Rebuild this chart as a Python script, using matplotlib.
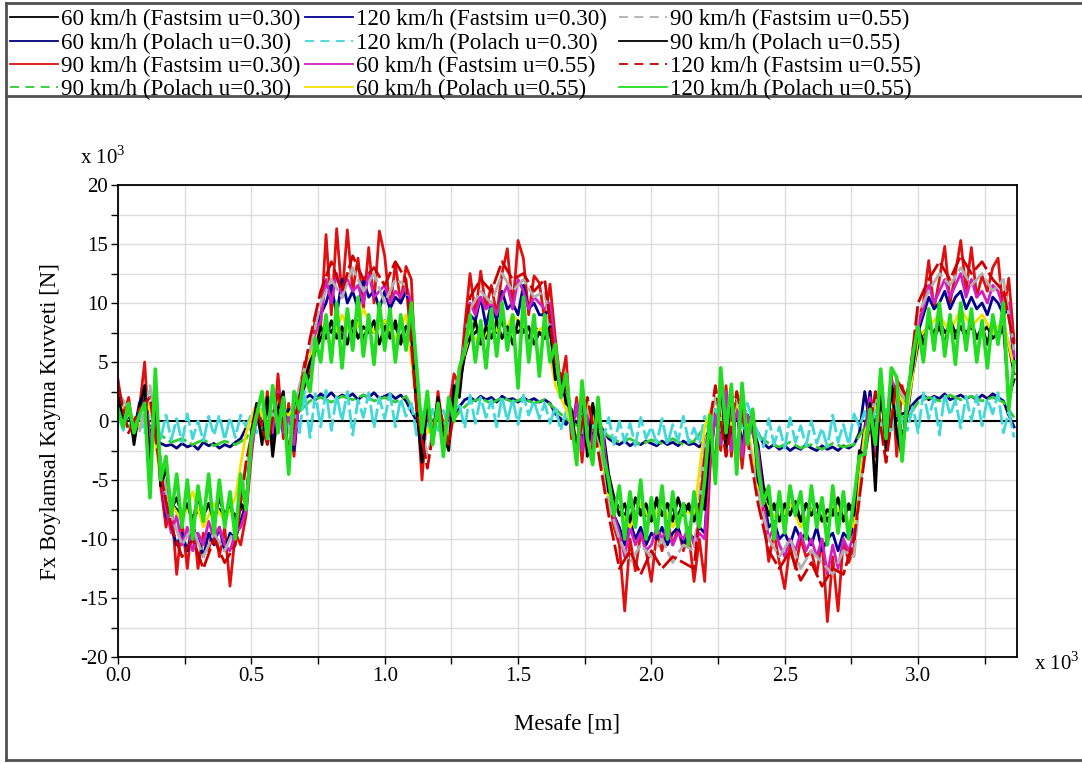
import numpy as np
import matplotlib.pyplot as plt
from matplotlib.lines import Line2D
from matplotlib.ticker import MultipleLocator, FormatStrFormatter

plt.rcParams['font.family'] = ['Liberation Serif', 'DejaVu Serif']
plt.rcParams['mathtext.fontset'] = 'custom'
plt.rcParams['mathtext.rm'] = 'Liberation Serif'
plt.rcParams['axes.unicode_minus'] = False

# Fx longitudinal creep force [x10^3 N], sampled evenly along 0 .. 3.36 x10^3 m
f60_fastsim_030 = [
    1.5, 0.0, 1.0, -0.5, 0.5, 2.0, -1.5, 0.0, -3.5, -6.0,
    -7.0, -7.5, -8.0, -7.0, -8.5, -7.5, -8.0, -7.0, -8.0, -7.5,
    -8.0, -7.5, -8.0, -7.5, -7.0, -2.0, 0.5, -0.5, 1.0, -0.5,
    1.5, -0.5, 0.5, -1.0, 1.5, 3.0, 4.0, 6.0, 7.0, 8.0,
    7.5, 8.5, 7.0, 8.0, 7.5, 8.5, 7.0, 8.0, 7.5, 8.0,
    8.5, 7.5, 8.0, 7.0, 8.0, 7.5, 2.5, -1.5, 0.5, -1.0,
    1.0, -0.5, 0.5, 1.5, 3.0, 5.5, 7.0, 7.5, 8.0, 7.0,
    8.0, 7.5, 8.5, 7.0, 8.0, 7.5, 8.0, 7.0, 8.0, 7.5,
    7.0, 7.5, 5.0, 2.0, 3.0, -0.5, 1.0, -1.5, 0.5, -1.0,
    0.0, -1.0, -4.5, -6.5, -7.5, -8.0, -7.0, -8.0, -7.5, -8.0,
    -7.5, -7.0, -8.0, -7.0, -7.5, -8.0, -7.0, -7.5, -8.0, -7.5,
    -7.0, -2.5, 0.5, -1.0, 1.5, -1.5, 1.0, -2.0, 0.5, -0.5,
    -2.0, -5.5, -7.0, -7.5, -6.8, -8.0, -7.0, -7.5, -8.5, -7.0,
    -7.5, -8.0, -7.0, -8.5, -7.5, -8.0, -7.0, -7.5, -7.0, -3.5,
    -0.5, 1.5, -1.5, 2.0, -1.0, 2.5, 1.5, -1.5, 0.5, 4.0,
    6.5, 7.5, 8.0, 7.5, 8.5, 7.5, 8.0, 7.0, 8.0, 7.5,
    8.0, 7.0, 7.5, 8.0, 7.0, 7.5, 8.0, 6.5, 4.0,
]
f60_polach_030 = [
    0.3, -0.2, 0.4, -0.3, 0.2, 0.4, -0.5, -1.5, -1.9, -2.1,
    -2.0, -2.3, -1.9, -2.2, -2.0, -2.4, -1.8, -2.1, -1.9, -2.3,
    -2.0, -2.2, -1.8, -1.5, -0.6, 0.2, -0.3, 0.4, -0.2, 0.3,
    0.0, 0.5, -0.3, 0.4, 1.2, 1.9, 2.2, 1.8, 2.3, 2.0,
    2.4, 1.9, 2.2, 2.0, 2.3, 1.8, 2.2, 2.0, 2.4, 1.9,
    2.1, 2.3, 1.9, 2.2, 1.7, 0.8, 0.0, -0.4, 0.3, -0.2,
    0.4, -0.3, 0.2, 0.5, 1.2, 1.8, 2.0, 1.7, 2.1, 1.8,
    2.0, 1.6, 2.1, 1.8, 1.9, 1.6, 2.0, 1.7, 1.9, 1.6,
    1.8, 1.5, 0.6, 0.2, -0.3, 0.3, -0.2, 0.4, -0.3, 0.2,
    -0.2, -0.8, -1.5, -1.8, -2.0, -1.7, -2.1, -1.8, -2.0, -1.7,
    -1.9, -2.1, -1.7, -2.0, -1.8, -2.1, -1.7, -2.0, -1.9, -2.2,
    -1.6, -0.6, 0.2, -0.3, 0.4, -0.2, 0.3, -0.4, 0.2, -0.3,
    -1.0, -1.9, -2.3, -2.0, -2.4, -2.1, -2.5, -2.2, -2.4, -2.0,
    -2.3, -2.5, -2.1, -2.4, -2.2, -2.5, -2.1, -2.3, -2.0, -1.0,
    2.5, -0.3, 0.3, -0.2, 0.5, -0.4, 0.2, 0.6, 0.8, 1.4,
    1.9, 2.2, 1.8, 2.1, 1.9, 2.3, 1.8, 2.0, 2.2, 1.9,
    2.1, 1.8, 2.2, 1.9, 2.3, 2.0, 1.7, 0.5, -0.5,
]
f90_fastsim_030 = [
    3.5, 0.5, 2.0, -1.5, 1.0, 5.0, -2.5, 1.0, -5.5, -9.0,
    -7.0, -13.0, -8.5, -12.5, -8.0, -12.5, -9.5, -11.0, -8.5, -11.5,
    -9.0, -14.0, -9.5, -10.5, -8.0, -3.0, 1.0, -1.5, 2.5, -2.0,
    4.0, -1.5, 1.5, -3.0, 2.5, 5.0, 4.0, 9.0, 8.0, 15.8,
    9.0, 16.3, 10.5, 16.2, 11.0, 13.8, 9.5, 14.7, 10.0, 16.1,
    14.0, 9.5, 13.3, 10.0, 13.1, 12.0, 2.0, -5.0, 1.5, -2.0,
    2.5, -1.0, 1.0, 4.0, 3.0, 8.0, 12.5, 9.0, 12.7, 9.5,
    11.5, 9.0, 12.5, 14.6, 9.5, 15.3, 13.8, 9.0, 12.3, 11.7,
    8.5, 11.6, 7.0, 3.0, 5.5, -1.5, 2.0, -3.5, 1.5, -2.5,
    1.0, -2.0, -6.5, -9.0, -10.5, -16.1, -10.0, -12.7, -9.5, -11.0,
    -13.6, -9.5, -11.0, -8.5, -10.5, -9.0, -11.0, -9.5, -13.6, -10.0,
    -13.6, -4.0, 1.0, -2.5, 3.0, -3.0, 2.0, -4.0, 0.5, -1.0,
    -3.0, -8.0, -11.9, -9.5, -12.0, -14.2, -10.5, -12.5, -10.0, -11.5,
    -11.0, -13.0, -10.0, -17.0, -11.5, -16.1, -10.0, -12.0, -10.7, -5.0,
    -1.0, 2.5, -3.0, 3.5, -2.0, 4.0, -3.0, 3.0, 1.0, 6.0,
    8.5, 10.0, 13.6, 9.5, 12.0, 14.8, 10.0, 12.5, 15.3, 11.0,
    14.7, 10.5, 12.3, 11.0, 13.0, 13.8, 9.0, 12.1, 6.8,
]
f90_polach_030 = [
    0.5, -0.5, 0.5, -0.5, -1.2, -1.8, -1.5, -2.0, -1.6, -2.1,
    -1.7, -2.0, -1.5, 0.3, -0.4, 0.5, -0.2, 0.8, 1.7, 2.0,
    1.6, 2.1, 1.8, 2.2, 1.7, 2.0, 1.6, 2.1, 0.4, -0.3,
    0.5, -0.5, 0.8, 1.6, 1.9, 1.5, 2.0, 1.6, 1.9, 1.5,
    1.8, 1.0, 0.2, -0.4, 0.3, -0.5, -1.3, -1.8, -1.5, -2.0,
    -1.6, -1.9, -1.5, -2.0, -1.7, -0.5, 0.5, -0.3, 0.6, -0.2,
    -1.2, -1.9, -2.2, -1.8, -2.3, -2.0, -2.4, -1.9, -2.2, -2.0,
    -0.5, 0.4, -0.3, 0.6, 0.2, 1.6, 2.0, 1.7, 2.2, 1.8,
    2.1, 1.7, 2.0, 1.6, 0.3,
]
f120_fastsim_030 = [
    2.0, 0.5, 1.0, -1.0, 1.5, 2.5, -2.5, 1.0, -4.0, -8.0,
    -9.0, -10.5, -9.5, -11.0, -9.0, -10.0, -11.5, -9.5, -10.5, -9.0,
    -11.0, -9.5, -10.0, -8.5, -7.0, -2.0, 1.0, -1.5, 1.5, -1.5,
    2.0, -1.0, 1.0, -2.5, 2.0, 3.5, 5.0, 7.0, 9.0, 10.0,
    11.5, 9.0, 12.0, 10.0, 11.0, 9.5, 12.0, 10.5, 11.0, 9.5,
    11.0, 9.5, 10.5, 10.0, 11.0, 9.0, 2.5, -2.5, 1.0, -1.0,
    1.5, -0.5, 0.5, 2.0, 3.5, 6.5, 9.0, 8.5, 10.5, 8.0,
    10.0, 8.5, 11.0, 9.5, 10.0, 9.0, 11.5, 9.5, 10.0, 9.0,
    9.0, 9.5, 5.5, 2.5, 3.5, -0.5, 1.5, -2.0, 1.0, -1.5,
    0.5, -1.5, -5.0, -8.0, -9.0, -10.5, -8.5, -10.0, -9.0, -10.5,
    -9.5, -10.0, -9.0, -10.5, -9.5, -9.0, -10.5, -9.5, -10.0, -9.0,
    -9.5, -3.0, 0.5, -1.5, 2.0, -2.0, 1.0, -2.5, 0.5, -0.5,
    -2.5, -6.5, -9.0, -8.5, -10.0, -9.5, -10.5, -9.0, -10.0, -9.5,
    -10.5, -9.0, -11.0, -10.0, -9.5, -11.0, -9.5, -10.0, -9.0, -4.0,
    -1.0, 2.5, -2.0, 2.5, -1.0, 3.0, 2.0, -2.0, 1.0, 4.5,
    7.5, 9.0, 10.5, 9.5, 10.0, 11.0, 9.5, 10.5, 11.0, 9.5,
    10.5, 9.5, 10.0, 9.0, 10.5, 10.0, 9.0, 9.5, 5.0,
]
f120_polach_030 = [
    0.5, -0.8, 1.0, -0.5, 0.8, -1.0, 0.6, 0.3, -1.5, 0.5,
    -1.6, 0.2, -1.8, 0.6, -1.5, 0.0, -1.7, 0.4, -1.2, 0.5,
    -1.6, 0.3, -1.4, 0.5, -0.5, 0.6, -1.0, 1.0, -0.8, 0.9,
    -1.0, 0.7, -0.5, 1.2, -1.0, 2.5, -1.4, 2.3, -0.5, 2.6,
    -0.8, 2.2, 0.0, 2.5, -1.2, 1.8, 0.3, 2.4, -0.6, 2.0,
    0.2, 2.3, -0.5, 1.9, 0.4, 1.5, -1.2, 0.8, -0.6, 1.0,
    -0.8, 0.9, -0.5, 0.7, 1.5, -0.6, 2.2, -0.2, 2.0, 0.3,
    1.8, -0.5, 2.1, 0.0, 1.9, -0.3, 2.2, 0.5, 1.7, 0.2,
    1.5, -0.2, 1.2, -0.8, 0.8, -0.5, 1.0, -1.0, 1.3, -0.8,
    0.6, -1.5, 0.3, -2.0, 0.0, -1.8, -0.2, -2.1, 0.3, -1.5,
    -0.5, -1.9, 0.2, -2.0, -0.3, -1.7, 0.4, -1.8, -0.6, -1.9,
    0.4, -1.2, 1.0, -0.8, 1.2, -0.5, 1.4, -0.7, 1.5, 0.0,
    -1.0, -2.2, 0.2, -2.0, -0.5, -2.3, 0.3, -1.8, -0.4, -2.1,
    0.0, -1.9, -0.6, -2.2, 0.5, -1.8, -0.3, -2.0, 0.6, -0.5,
    0.8, -1.0, 1.2, -0.6, 1.0, -0.8, 1.5, 0.0, -0.8, 1.2,
    -1.0, 2.4, 0.2, 2.0, -1.2, 2.3, 0.5, 1.8, -0.6, 2.1,
    0.0, 2.2, -0.4, 1.9, 0.6, 2.4, -1.0, 0.8, -1.4,
]
f60_fastsim_055 = [
    2.0, 0.0, 1.0, -1.0, 0.5, 3.0, -2.0, 0.5, -4.5, -7.5,
    -9.5, -8.0, -10.5, -9.0, -11.0, -9.5, -10.5, -8.5, -10.0, -9.0,
    -10.5, -11.0, -9.5, -9.0, -7.5, -2.5, 0.5, -1.0, 1.5, -1.0,
    2.5, -1.0, 0.5, -2.0, 2.0, 4.0, 4.5, 7.5, 8.5, 12.0,
    10.0, 12.5, 10.5, 12.0, 11.0, 11.5, 10.0, 12.5, 10.5, 11.0,
    11.5, 10.0, 11.0, 10.5, 11.5, 10.0, 3.0, -3.0, 1.0, -1.5,
    1.5, -1.0, 0.5, 2.5, 4.0, 7.0, 10.0, 9.0, 10.5, 9.5,
    10.0, 9.0, 10.5, 11.5, 9.5, 12.0, 11.0, 9.5, 10.5, 10.0,
    9.5, 10.0, 6.0, 2.5, 4.0, -1.0, 1.5, -2.5, 1.0, -2.0,
    0.5, -1.5, -5.5, -8.0, -9.5, -11.5, -9.0, -10.5, -9.5, -11.0,
    -10.5, -9.0, -10.0, -9.0, -10.5, -9.5, -10.0, -9.0, -10.5, -9.5,
    -10.0, -3.0, 0.5, -2.0, 2.5, -2.5, 1.5, -3.0, 0.5, -1.0,
    -2.5, -7.0, -10.0, -9.0, -10.5, -11.5, -10.0, -11.0, -9.5, -11.0,
    -10.0, -11.5, -10.0, -13.0, -10.5, -12.5, -10.0, -11.0, -9.5, -4.5,
    -1.0, 2.0, -2.5, 3.0, -1.5, 3.5, 2.5, -2.5, 1.0, 5.0,
    8.0, 9.5, 11.5, 10.0, 11.0, 12.0, 10.5, 11.5, 12.5, 10.5,
    12.0, 10.5, 11.0, 10.0, 11.5, 11.0, 9.5, 10.0, 5.5,
]
f60_polach_055 = [
    1.5, 0.5, -0.5, 1.5, -5.0, -7.0, -8.5, -6.0, -9.0, -7.0,
    -8.5, -6.5, -1.0, 1.5, -0.5, 1.0, 0.5, 2.0, 5.5, 8.0,
    6.5, 9.0, 7.0, 9.5, 7.5, 8.5, 7.0, 9.0, 1.5, -1.0,
    0.5, -1.5, 4.0, 7.5, 6.5, 8.5, 7.0, 9.0, 8.0, 7.5,
    8.0, 3.0, 1.0, -1.5, 1.5, -1.0, -6.5, -7.5, -9.0, -7.0,
    -8.5, -7.0, -9.0, -7.5, -8.0, -0.5, 2.0, -1.5, 1.5, -0.5,
    -5.5, -7.5, -8.5, -7.0, -9.0, -7.5, -8.5, -7.0, -8.0, -9.0,
    -1.0, 1.5, -2.0, 2.5, 1.0, 7.0, 8.0, 9.0, 7.5, 9.5,
    8.0, 9.0, 7.5, 8.5, 4.5,
]
f90_fastsim_055 = [
    2.5, 1.0, -1.0, 3.0, -3.5, -8.0, -10.5, -9.0, -11.5, -9.5,
    -11.0, -9.0, -4.0, 0.5, -1.5, 2.0, -1.0, 3.0, 6.0, 10.0,
    12.0, 10.5, 13.0, 11.0, 12.5, 10.0, 12.0, 11.5, 2.0, -3.0,
    1.0, -1.0, 4.0, 9.5, 11.0, 10.0, 12.5, 11.0, 12.0, 10.5,
    11.0, 4.5, 2.0, -2.0, 1.0, -1.5, -7.0, -10.0, -12.0, -10.5,
    -11.5, -10.0, -12.0, -10.5, -11.0, -2.0, 2.0, -2.5, 2.0, -1.0,
    -6.0, -10.0, -11.5, -10.0, -12.5, -11.0, -12.0, -13.0, -11.0, -11.5,
    -2.0, 2.0, -2.5, 3.0, 1.5, 9.0, 11.0, 12.5, 11.5, 13.0,
    11.5, 12.5, 11.0, 12.0, 6.0,
]
f90_polach_055 = [
    2.5, -0.5, 1.5, -2.0, 1.0, 3.0, -4.0, 2.0, -5.5, -4.0,
    -7.5, -6.5, -8.0, -7.0, -8.5, -6.5, -8.0, -7.0, -8.5, -6.5,
    -8.0, -7.0, -8.5, -7.0, -7.5, -1.0, 1.5, -2.0, 2.0, -3.0,
    1.0, 2.5, -3.5, 1.5, 2.0, 3.5, 5.0, 6.0, 8.0, 7.0,
    8.5, 7.0, 8.0, 6.5, 8.5, 7.0, 8.0, 7.5, 8.5, 6.5,
    8.0, 7.0, 8.5, 6.5, 8.0, 7.5, 1.0, -3.5, 2.0, -1.5,
    2.0, -1.0, -2.5, 3.0, 2.0, 6.5, 7.0, 8.5, 6.5, 8.0,
    7.0, 8.5, 7.0, 8.0, 6.5, 8.5, 7.5, 8.0, 6.5, 7.5,
    7.0, 8.0, 3.5, 4.0, 1.5, 1.0, -2.5, 2.5, -3.0, 1.5,
    -1.0, -2.5, -6.0, -6.5, -8.0, -7.0, -8.5, -6.5, -8.0, -7.0,
    -8.5, -6.5, -8.0, -7.0, -8.5, -6.5, -8.0, -7.0, -8.5, -7.0,
    -7.5, -1.5, -3.5, 3.5, -2.5, 2.5, -3.5, 2.0, -1.5, 0.5,
    -5.0, -6.5, -8.0, -7.0, -8.5, -7.0, -8.0, -6.8, -8.5, -7.0,
    -8.0, -7.0, -8.5, -7.5, -8.0, -6.5, -8.5, -7.0, -8.0, -2.5,
    -3.0, 1.5, -5.9, 3.5, -2.5, 3.0, -1.0, -3.0, 2.5, 4.5,
    8.0, 6.5, 8.5, 7.0, 8.0, 6.5, 8.5, 7.5, 8.0, 7.0,
    8.5, 7.0, 8.0, 6.5, 8.5, 7.0, 8.0, 2.0, 3.5,
]
f120_fastsim_055 = [
    3.0, -1.0, 1.0, 2.0, -4.5, -9.0, -11.5, -10.0, -12.5, -10.0,
    -12.0, -10.5, -3.5, 1.0, -2.0, 2.5, -2.5, 2.0, 7.0, 11.0,
    13.5, 11.0, 14.0, 12.0, 13.0, 11.5, 13.5, 12.0, 1.0, -4.0,
    1.5, -2.0, 3.5, 10.5, 12.0, 11.0, 13.5, 12.0, 12.5, 11.0,
    12.0, 5.0, 3.0, -2.5, 2.0, -2.5, -8.0, -12.5, -11.0, -13.0,
    -11.0, -12.5, -11.5, -12.0, -12.5, -3.0, 3.0, -3.0, 2.5, -1.5,
    -7.0, -11.0, -12.5, -11.0, -13.5, -12.0, -14.0, -12.5, -13.0, -10.0,
    -3.0, 2.5, -3.5, 3.5, 2.0, 10.0, 12.0, 13.5, 12.0, 14.0,
    12.5, 13.5, 12.0, 11.0, 6.5,
]
f120_polach_055 = [
    1.0, -0.5, 1.5, -1.0, 0.5, 1.5, -6.5, 4.4, -5.0, -3.0,
    -8.0, -4.5, -9.0, -5.0, -10.0, -5.5, -8.5, -4.5, -9.5, -5.0,
    -9.0, -6.0, -10.0, -4.5, -7.5, -1.5, 0.5, 2.5, -1.5, 3.0,
    -1.0, 2.0, -4.5, 2.5, 1.0, 4.0, 2.5, 7.0, 5.0, 9.0,
    5.0, 10.0, 4.5, 9.5, 6.0, 10.5, 5.5, 9.0, 4.8, 10.0,
    6.0, 9.5, 5.0, 9.0, 6.0, 10.0, 4.5, -1.0, 2.5, -2.0,
    1.5, -3.0, 2.0, 0.0, 4.5, 6.0, 9.0, 5.0, 8.5, 4.5,
    9.5, 5.5, 10.0, 6.0, 9.0, 2.8, 10.5, 5.0, 9.0, 3.8,
    9.0, 5.0, 6.5, 2.0, 4.0, 0.0, -3.7, 3.4, -1.5, -3.7,
    2.0, -3.0, -5.0, -8.0, -5.5, -10.0, -6.0, -9.0, -5.0, -10.0,
    -6.5, -9.5, -5.5, -10.0, -6.0, -9.0, -7.0, -10.5, -6.0, -9.0,
    -5.0, 0.5, -5.3, 4.5, -1.0, 3.1, -4.5, 3.2, -2.0, 1.0,
    -4.0, -7.0, -5.5, -10.0, -6.0, -9.5, -5.5, -8.0, -6.0, -10.0,
    -5.5, -9.0, -6.5, -10.5, -5.5, -9.5, -6.0, -10.0, -6.5, -3.0,
    -2.8, 1.0, -2.0, 4.4, -1.5, 4.5, 3.7, -3.4, 2.0, 5.5,
    8.0, 5.0, 9.5, 6.0, 10.0, 5.5, 9.0, 4.8, 10.0, 6.0,
    9.5, 5.0, 8.5, 4.5, 9.0, 6.5, 10.0, 1.0, 5.0,
]

labels = [
    '60 km/h (Fastsim u=0.30)', '60 km/h (Polach u=0.30)',
    '90 km/h (Fastsim u=0.30)', '90 km/h (Polach u=0.30)',
    '120 km/h (Fastsim u=0.30)', '120 km/h (Polach u=0.30)',
    '60 km/h (Fastsim u=0.55)', '60 km/h (Polach u=0.55)',
    '90 km/h (Fastsim u=0.55)', '90 km/h (Polach u=0.55)',
    '120 km/h (Fastsim u=0.55)', '120 km/h (Polach u=0.55)',
]
values = [
    f60_fastsim_030, f60_polach_030, f90_fastsim_030, f90_polach_030,
    f120_fastsim_030, f120_polach_030, f60_fastsim_055, f60_polach_055,
    f90_fastsim_055, f90_polach_055, f120_fastsim_055, f120_polach_055,
]
colors = ['#000000', '#000080', '#e01010', '#33cc33', '#000090', '#40d8d8',
          '#d020c0', '#f0e000', '#b0b0b0', '#000000', '#cc0000', '#22dd22']
dashed = [False, False, False, True, False, True,
          False, False, True, False, True, False]
KEY_DASH = (0, (5, 3.5))
LINE_DASH = (0, (7, 1.5))

W, H = 1082, 763
fig = plt.figure(figsize=(W / 100, H / 100), dpi=100)

def fx(px):
    return px / W

def fy(py):
    return 1 - py / H

ax = fig.add_axes([fx(118), fy(657), fx(1017) - fx(118), fy(185) - fy(657)])

ax.axhline(0, color='black', lw=1.5, zorder=1.5)
for k, (vals, col, dsh) in enumerate(zip(values, colors, dashed)):
    dist = np.linspace(0, 3.36, len(vals))
    ax.plot(dist, vals, color=col, lw=2.6 if k == 11 else 2.0,
            ls=LINE_DASH if dsh else '-')

ax.set_xlim(0, 3.371)
ax.set_ylim(-20, 20)
ax.xaxis.set_major_locator(MultipleLocator(0.5))
ax.xaxis.set_minor_locator(MultipleLocator(0.25))
ax.yaxis.set_major_locator(MultipleLocator(5))
ax.yaxis.set_minor_locator(MultipleLocator(2.5))
ax.xaxis.set_major_formatter(FormatStrFormatter('%.1f'))
ax.grid(True, which='both', color='#dcdcdc', lw=1.0)
ax.set_axisbelow(True)
ax.tick_params(which='both', direction='out', length=5, width=1,
               labelsize=15, pad=2)
for s in ax.spines.values():
    s.set_color('black')
    s.set_linewidth(1.3)

ax.set_xlabel('Mesafe [m]', fontsize=16.5, labelpad=20)
ax.set_ylabel('Fx Boylamsal Kayma Kuvveti [N]', fontsize=16.5, labelpad=14)
fig.text(fx(80), fy(158), r'x 10$^{\mathrm{3}}$', fontsize=15, va='center')
fig.text(fx(1034), fy(664), r'x 10$^{\mathrm{3}}$', fontsize=15, va='center')

# legend block above the plot: three columns of four entries
col_x = [10, 305, 619]
row_y = [17, 41, 64, 87]
for k, (lab, col, dsh) in enumerate(zip(labels, colors, dashed)):
    c, r = divmod(k, 4)
    x0 = col_x[c]
    fig.add_artist(Line2D([fx(x0), fx(x0 + 48)], [fy(row_y[r])] * 2,
                          color=col, lw=1.3, ls=KEY_DASH if dsh else '-'))
    fig.text(fx(x0 + 51), fy(row_y[r] + 2), lab, fontsize=16.6, va='center')

# outer frame and legend separator
frame = dict(color='#505050', lw=2)
fig.add_artist(Line2D([fx(6), fx(6)], [fy(3), fy(760)], **frame))
fig.add_artist(Line2D([fx(6), 1], [fy(3), fy(3)], **frame))
fig.add_artist(Line2D([fx(6), 1], [fy(760), fy(760)], **frame))
fig.add_artist(Line2D([fx(6), 1], [fy(96), fy(96)], **frame))

fig.savefig('out.png', dpi=100)
